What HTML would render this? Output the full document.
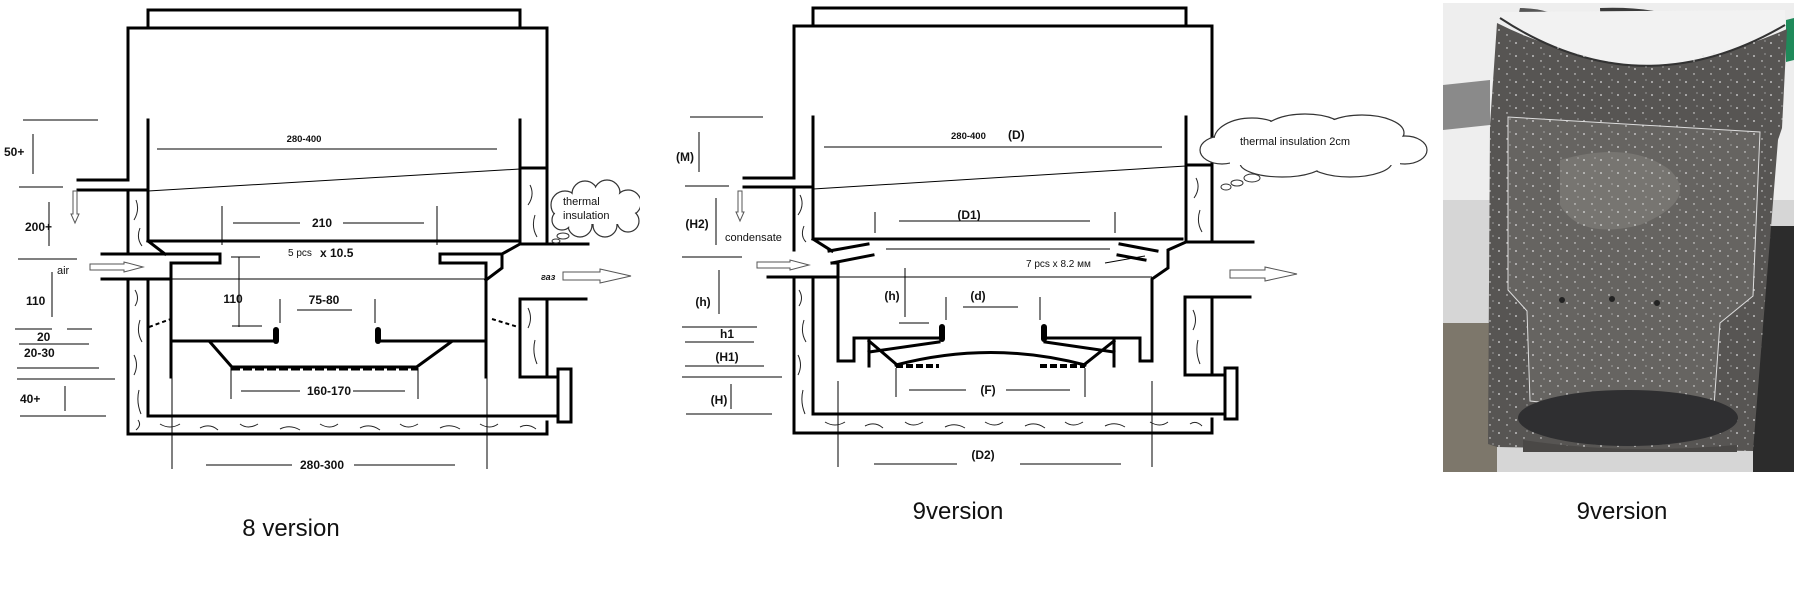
<!DOCTYPE html>
<html><head><meta charset="utf-8"><style>
html,body{margin:0;padding:0;background:#fff;}
svg{display:block;}
text{font-family:"Liberation Sans",sans-serif;fill:#111;}
.b{font-weight:bold;font-size:12px;}
</style></head><body>
<svg width="1810" height="607" viewBox="0 0 1810 607" xmlns="http://www.w3.org/2000/svg">
<defs>
<pattern id="sp" width="17" height="13" patternUnits="userSpaceOnUse">
<circle cx="3" cy="4" r="0.9" fill="#ddd"/><circle cx="11" cy="9" r="0.7" fill="#eee"/><circle cx="14" cy="2" r="0.6" fill="#ccc"/>
</pattern>
</defs>
<rect width="1810" height="607" fill="#fff"/>
<!-- ================= 8 version ================= -->
<g stroke="#000" fill="none" stroke-width="3" stroke-linecap="square">
<polyline points="148,28 148,10 520,10 520,28"/>
<polyline points="128,180 128,28 547,28 547,244"/>
<line x1="78" y1="180" x2="128" y2="180"/>
<line x1="78" y1="190" x2="148" y2="190"/>
<line x1="128" y1="190" x2="128" y2="254"/>
<line x1="148" y1="120" x2="148" y2="241"/>
<line x1="102" y1="254" x2="220" y2="254"/>
<line x1="148" y1="241" x2="165" y2="254"/>
<line x1="102" y1="279" x2="171" y2="279"/>
<polyline points="128,279 128,434 547,434 547,422"/>
<line x1="148" y1="279" x2="148" y2="416"/>
<line x1="148" y1="416" x2="558" y2="416"/>
<line x1="148" y1="241" x2="520" y2="241"/>
<line x1="520" y1="120" x2="520" y2="244"/>
<line x1="520" y1="168" x2="547" y2="168"/>
<line x1="520" y1="244" x2="588" y2="244"/>
<polyline points="520,244 502,254 502,268 486,280"/>
<line x1="440" y1="254" x2="502" y2="254"/>
<polyline points="220,254 220,263 171,263 171,377"/>
<polyline points="440,254 440,263 486,263 486,377"/>
<polyline points="586,299 520,299 520,377 558,377"/>
<line x1="547" y1="299" x2="547" y2="377"/>
<rect x="558" y="369" width="13" height="53"/>
<line x1="171" y1="341" x2="273" y2="341"/>
<line x1="378" y1="341" x2="486" y2="341"/>
<line x1="210" y1="342" x2="231" y2="366"/>
<line x1="451" y1="342" x2="418" y2="366"/>
</g>
<rect x="273" y="327" width="6" height="17" rx="3" fill="#000"/>
<rect x="375" y="327" width="6" height="17" rx="3" fill="#000"/>
<line x1="231" y1="367" x2="418" y2="367" stroke="#000" stroke-width="3"/>
<line x1="231" y1="369" x2="418" y2="369" stroke="#000" stroke-width="3" stroke-dasharray="9,3"/>
<g stroke="#000" stroke-width="1" fill="none">
<line x1="148" y1="191" x2="520" y2="169"/>
<line x1="157" y1="149" x2="497" y2="149"/>
<line x1="222" y1="206" x2="222" y2="245"/>
<line x1="437" y1="206" x2="437" y2="245"/>
<line x1="233" y1="223" x2="300" y2="223"/>
<line x1="343" y1="223" x2="424" y2="223"/>
<line x1="171" y1="279" x2="486" y2="279"/>
<line x1="239" y1="257" x2="239" y2="327"/>
<line x1="231" y1="257" x2="260" y2="257"/>
<line x1="232" y1="326" x2="262" y2="326"/>
<line x1="297" y1="310" x2="352" y2="310"/>
<line x1="280" y1="299" x2="280" y2="323"/>
<line x1="375" y1="299" x2="375" y2="323"/>
<line x1="231" y1="368" x2="231" y2="399"/>
<line x1="418" y1="368" x2="418" y2="399"/>
<line x1="241" y1="391" x2="300" y2="391"/>
<line x1="353" y1="391" x2="405" y2="391"/>
<line x1="172" y1="377" x2="172" y2="469"/>
<line x1="487" y1="377" x2="487" y2="469"/>
<line x1="206" y1="465" x2="292" y2="465"/>
<line x1="354" y1="465" x2="455" y2="465"/>
<line x1="149" y1="327" x2="171" y2="319" stroke-width="2" stroke-dasharray="4,3"/>
<line x1="492" y1="319" x2="518" y2="327" stroke-width="2" stroke-dasharray="4,3"/>
<line x1="23" y1="120" x2="98" y2="120"/>
<line x1="33" y1="134" x2="33" y2="174"/>
<line x1="19" y1="187" x2="63" y2="187"/>
<line x1="49" y1="202" x2="49" y2="246"/>
<line x1="18" y1="259" x2="77" y2="259"/>
<line x1="52" y1="272" x2="52" y2="317"/>
<line x1="15" y1="329" x2="52" y2="329"/>
<line x1="67" y1="329" x2="92" y2="329"/>
<line x1="19" y1="344" x2="89" y2="344"/>
<line x1="17" y1="368" x2="99" y2="368"/>
<line x1="17" y1="379" x2="115" y2="379"/>
<line x1="65" y1="386" x2="65" y2="411"/>
<line x1="20" y1="416" x2="106" y2="416"/>
</g>
<g stroke="#222" stroke-width="1" fill="none">
<path d="M136,200 q4,10 -2,20 M140,228 q-4,10 2,18 M135,290 q5,8 0,16 M140,320 q-4,12 2,22 M134,355 q5,10 0,20 M139,390 q-3,12 2,24 M138,420 q4,5 -2,10"/>
<path d="M160,424 q10,6 20,0 M200,428 q10,-5 18,2 M240,424 q8,6 18,0 M280,429 q10,-5 20,1 M320,424 q10,6 18,0 M360,428 q10,-5 20,2 M400,424 q8,6 18,0 M440,428 q10,-5 20,1 M480,424 q10,6 18,0 M520,427 q8,-4 16,2"/>
<path d="M530,185 q5,10 -2,20 M535,215 q-4,12 2,22 M528,308 q5,10 0,20 M535,340 q-3,12 2,24"/>
</g>
<g stroke="#555" stroke-width="1" fill="#fff">
<path d="M73,191 L77,191 L77,214 L79,214 L75,223 L71,214 L73,214 Z"/>
<path d="M90,264 L124,264 L124,262 L143,267 L124,272 L124,270 L90,270 Z"/>
<path d="M563,272 L600,272 L600,269 L631,276 L600,283 L600,280 L563,280 Z"/>
</g>
<g stroke="#333" stroke-width="1.2" fill="#fff">
<circle cx="565" cy="205" r="14"/><circle cx="585" cy="194" r="13"/><circle cx="607" cy="193" r="13"/><circle cx="628" cy="203" r="13"/><circle cx="628" cy="221" r="11"/><circle cx="605" cy="225" r="12"/><circle cx="580" cy="225" r="12"/><circle cx="562" cy="220" r="10"/>
</g>
<g fill="#fff">
<circle cx="565" cy="205" r="13"/><circle cx="585" cy="194" r="12"/><circle cx="607" cy="193" r="12"/><circle cx="628" cy="203" r="12"/><circle cx="628" cy="221" r="10"/><circle cx="605" cy="225" r="11"/><circle cx="580" cy="225" r="11"/><circle cx="562" cy="220" r="9"/>
<rect x="570" y="198" width="55" height="26"/>
</g>
<g stroke="#333" fill="#fff" stroke-width="1"><ellipse cx="563" cy="236" rx="6" ry="3"/><ellipse cx="556" cy="241" rx="4" ry="2"/></g>
<rect x="640" y="170" width="6" height="70" fill="#fff"/>
<g>
<text x="563" y="205" font-size="11">thermal</text>
<text x="563" y="219" font-size="11">insulation</text>
<text x="304" y="142" font-size="9.5" font-weight="bold" text-anchor="middle">280-400</text>
<text x="322" y="227" class="b" text-anchor="middle">210</text>
<text x="288" y="256" font-size="10">5 pcs</text>
<text x="320" y="257" class="b">x 10.5</text>
<text x="233" y="303" class="b" text-anchor="middle">110</text>
<text x="324" y="304" class="b" text-anchor="middle">75-80</text>
<text x="329" y="395" class="b" text-anchor="middle">160-170</text>
<text x="322" y="469" class="b" text-anchor="middle">280-300</text>
<text x="541" y="280" font-size="9" font-style="italic" font-weight="bold">газ</text>
<text x="4" y="156" class="b">50+</text>
<text x="25" y="231" class="b">200+</text>
<text x="57" y="274" font-size="11">air</text>
<text x="26" y="305" class="b">110</text>
<text x="37" y="341" class="b">20</text>
<text x="24" y="357" class="b">20-30</text>
<text x="20" y="403" class="b">40+</text>
<text x="291" y="536" font-size="24" text-anchor="middle">8 version</text>
</g>

<!-- ================= 9 version ================= -->
<g stroke="#000" fill="none" stroke-width="3" stroke-linecap="square">
<polyline points="813,26 813,8 1186,8 1186,26"/>
<polyline points="794,178 794,26 1212,26 1212,242"/>
<line x1="744" y1="178" x2="794" y2="178"/>
<line x1="744" y1="187" x2="813" y2="187"/>
<line x1="794" y1="187" x2="794" y2="250"/>
<line x1="813" y1="117" x2="813" y2="239"/>
<line x1="1186" y1="117" x2="1186" y2="242"/>
<line x1="1186" y1="165" x2="1212" y2="165"/>
<line x1="813" y1="239" x2="1182" y2="239"/>
<line x1="813" y1="239" x2="832" y2="251"/>
<line x1="829" y1="251" x2="868" y2="244"/>
<line x1="832" y1="263" x2="873" y2="255"/>
<line x1="1120" y1="244" x2="1157" y2="251"/>
<line x1="1118" y1="255" x2="1145" y2="260"/>
<polyline points="1186,242 1168,250 1168,268 1152,279 1152,350"/>
<line x1="1186" y1="242" x2="1253" y2="242"/>
<line x1="768" y1="277" x2="838" y2="277"/>
<polyline points="838,263 838,350"/>
<line x1="832" y1="263" x2="838" y2="263"/>
<polyline points="794,277 794,433 1212,433 1212,419"/>
<line x1="813" y1="277" x2="813" y2="414"/>
<line x1="813" y1="414" x2="1225" y2="414"/>
<polyline points="1250,297 1185,297 1185,375 1225,375"/>
<line x1="1212" y1="297" x2="1212" y2="375"/>
<rect x="1225" y="368" width="12" height="51"/>
<polyline points="838,350 838,361 854,361 854,338 939,338"/>
<polyline points="1152,350 1152,361 1140,361 1140,338 1045,338"/>
<line x1="869" y1="341" x2="869" y2="366"/>
<line x1="1114" y1="341" x2="1114" y2="366"/>
<line x1="869" y1="352" x2="939" y2="342"/>
<line x1="869" y1="341" x2="896" y2="364"/>
<line x1="1114" y1="352" x2="1045" y2="342"/>
<line x1="1114" y1="341" x2="1085" y2="364"/>
<path d="M896,365 Q991,340 1085,365"/>
</g>
<rect x="939" y="324" width="6" height="18" rx="3" fill="#000"/>
<rect x="1041" y="324" width="6" height="18" rx="3" fill="#000"/>
<line x1="896" y1="366" x2="939" y2="366" stroke="#000" stroke-width="4" stroke-dasharray="7,3"/>
<line x1="1040" y1="366" x2="1085" y2="366" stroke="#000" stroke-width="4" stroke-dasharray="7,3"/>
<g stroke="#000" stroke-width="1" fill="none">
<line x1="813" y1="189" x2="1186" y2="166"/>
<line x1="824" y1="147" x2="1162" y2="147"/>
<line x1="875" y1="212" x2="875" y2="233"/>
<line x1="1115" y1="212" x2="1115" y2="233"/>
<line x1="899" y1="221" x2="1090" y2="221"/>
<line x1="886" y1="249" x2="1110" y2="249"/>
<line x1="838" y1="277" x2="1152" y2="277"/>
<line x1="1105" y1="263" x2="1145" y2="256"/>
<line x1="905" y1="268" x2="905" y2="317"/>
<line x1="899" y1="323" x2="929" y2="323"/>
<line x1="963" y1="307" x2="1018" y2="307"/>
<line x1="946" y1="297" x2="946" y2="320"/>
<line x1="1040" y1="297" x2="1040" y2="320"/>
<line x1="896" y1="368" x2="896" y2="397"/>
<line x1="1085" y1="368" x2="1085" y2="397"/>
<line x1="909" y1="390" x2="966" y2="390"/>
<line x1="1006" y1="390" x2="1070" y2="390"/>
<line x1="838" y1="381" x2="838" y2="467"/>
<line x1="1152" y1="381" x2="1152" y2="467"/>
<line x1="874" y1="464" x2="957" y2="464"/>
<line x1="1020" y1="464" x2="1121" y2="464"/>
<line x1="690" y1="117" x2="763" y2="117"/>
<line x1="699" y1="132" x2="699" y2="172"/>
<line x1="685" y1="186" x2="729" y2="186"/>
<line x1="716" y1="198" x2="716" y2="245"/>
<line x1="682" y1="257" x2="742" y2="257"/>
<line x1="719" y1="270" x2="719" y2="314"/>
<line x1="682" y1="327" x2="757" y2="327"/>
<line x1="685" y1="342" x2="754" y2="342"/>
<line x1="685" y1="366" x2="764" y2="366"/>
<line x1="682" y1="377" x2="782" y2="377"/>
<line x1="731" y1="384" x2="731" y2="409"/>
<line x1="686" y1="414" x2="772" y2="414"/>
</g>
<g stroke="#222" stroke-width="1" fill="none">
<path d="M800,195 q5,10 -2,20 M804,226 q-4,10 2,16 M799,290 q5,8 0,16 M804,320 q-4,12 2,22 M798,355 q5,10 0,20 M803,390 q-3,12 2,24"/>
<path d="M825,422 q10,6 20,0 M865,426 q10,-5 18,2 M905,422 q8,6 18,0 M945,427 q10,-5 20,1 M985,422 q10,6 18,0 M1025,426 q10,-5 20,2 M1065,422 q8,6 18,0 M1105,426 q10,-5 20,1 M1150,422 q10,6 18,0 M1190,424 q6,-4 12,2"/>
<path d="M1196,178 q5,10 -2,20 M1200,210 q-4,12 2,22 M1193,310 q5,10 0,20 M1198,340 q-3,12 2,24"/>
</g>
<g stroke="#555" stroke-width="1" fill="#fff">
<path d="M738,191 L742,191 L742,212 L744,212 L740,221 L736,212 L738,212 Z"/>
<path d="M757,262 L790,262 L790,260 L809,265 L790,270 L790,268 L757,268 Z"/>
<path d="M1230,270 L1265,270 L1265,267 L1297,274 L1265,281 L1265,278 L1230,278 Z"/>
</g>
<g stroke="#333" stroke-width="1.2" fill="#fff">
<ellipse cx="1222" cy="150" rx="22" ry="14"/><ellipse cx="1252" cy="140" rx="38" ry="22"/><ellipse cx="1305" cy="132" rx="42" ry="18"/><ellipse cx="1362" cy="133" rx="42" ry="18"/><ellipse cx="1405" cy="150" rx="22" ry="14"/><ellipse cx="1350" cy="162" rx="42" ry="15"/><ellipse cx="1282" cy="163" rx="42" ry="14"/>
</g>
<g fill="#fff">
<ellipse cx="1222" cy="150" rx="21" ry="13"/><ellipse cx="1252" cy="140" rx="37" ry="21"/><ellipse cx="1305" cy="132" rx="41" ry="17"/><ellipse cx="1362" cy="133" rx="41" ry="17"/><ellipse cx="1405" cy="150" rx="21" ry="13"/><ellipse cx="1350" cy="162" rx="41" ry="14"/><ellipse cx="1282" cy="163" rx="41" ry="13"/>
<rect x="1230" y="130" width="170" height="35"/>
</g>
<g stroke="#333" fill="#fff" stroke-width="1"><ellipse cx="1252" cy="178" rx="8" ry="4"/><ellipse cx="1237" cy="183" rx="6" ry="3"/><ellipse cx="1226" cy="187" rx="5" ry="3"/></g>
<g>
<text x="1240" y="145" font-size="11">thermal insulation 2cm</text>
<text x="951" y="139" font-size="9.5" font-weight="bold">280-400</text>
<text x="1008" y="139" class="b">(D)</text>
<text x="969" y="219" class="b" text-anchor="middle">(D1)</text>
<text x="1026" y="267" font-size="10">7 pcs x 8.2 мм</text>
<text x="892" y="300" class="b" text-anchor="middle">(h)</text>
<text x="978" y="300" class="b" text-anchor="middle">(d)</text>
<text x="988" y="394" class="b" text-anchor="middle">(F)</text>
<text x="983" y="459" class="b" text-anchor="middle">(D2)</text>
<text x="685" y="161" class="b" text-anchor="middle">(M)</text>
<text x="697" y="228" class="b" text-anchor="middle">(H2)</text>
<text x="725" y="241" font-size="11">condensate</text>
<text x="703" y="306" class="b" text-anchor="middle">(h)</text>
<text x="727" y="338" class="b" text-anchor="middle">h1</text>
<text x="727" y="361" class="b" text-anchor="middle">(H1)</text>
<text x="719" y="404" class="b" text-anchor="middle">(H)</text>
<text x="958" y="519" font-size="24" text-anchor="middle">9version</text>
</g>

<!-- ================= photo ================= -->
<g>
<rect x="1443" y="3" width="351" height="469" fill="#d6d6d6"/>
<path d="M1443,3 L1794,3 L1794,200 L1443,200 Z" fill="#eeeeee"/>
<path d="M1520,8 q30,0 50,15 q-10,15 -35,10 q-20,-8 -15,-25 Z" fill="#555"/>
<path d="M1600,8 q60,-2 90,15 q-20,25 -55,20 q-35,-10 -35,-35 Z" fill="#3a3a3a"/>
<path d="M1443,85 L1490,80 L1490,125 L1443,130 Z" fill="#8a8a8a"/>
<path d="M1443,323 L1497,323 L1497,472 L1443,472 Z" fill="#7d776b"/>
<path d="M1753,226 L1794,226 L1794,472 L1753,472 Z" fill="#2c2c2c"/>
<path d="M1786,20 L1794,18 L1794,60 L1786,62 Z" fill="#1f8a5a"/>
<path d="M1497,23 Q1640,95 1787,29 L1782,128 L1778,140 L1753,451 L1497,447 L1488,444 L1490,125 Z" fill="#575553"/>
<path d="M1500,18 Q1640,110 1785,25 L1785,10 L1500,12 Z" fill="#f2f2f2"/>
<path d="M1500,18 Q1640,110 1785,25" fill="none" stroke="#333" stroke-width="2"/>
<path d="M1508,117 L1760,132 L1753,296 L1720,323 L1713,420 L1530,401 L1527,311 L1508,290 Z" fill="#666461" stroke="#ddd" stroke-width="1"/>
<path d="M1560,160 q70,-20 110,10 q30,30 -30,55 q-60,15 -80,-20 Z" fill="#777571"/>
<path d="M1497,23 Q1640,95 1787,29 L1782,128 L1778,140 L1753,451 L1497,447 L1488,444 L1490,125 Z" fill="url(#sp)"/>
<ellipse cx="1628" cy="418" rx="110" ry="28" fill="#2f2f31"/>
<path d="M1523,440 Q1620,455 1737,445 L1737,452 L1523,452 Z" fill="#4a4846"/>
<circle cx="1562" cy="300" r="3" fill="#222"/>
<circle cx="1612" cy="299" r="3" fill="#222"/>
<circle cx="1657" cy="303" r="3" fill="#222"/>
<text x="1622" y="519" font-size="24" text-anchor="middle">9version</text>
</g>
</svg>
</body></html>
